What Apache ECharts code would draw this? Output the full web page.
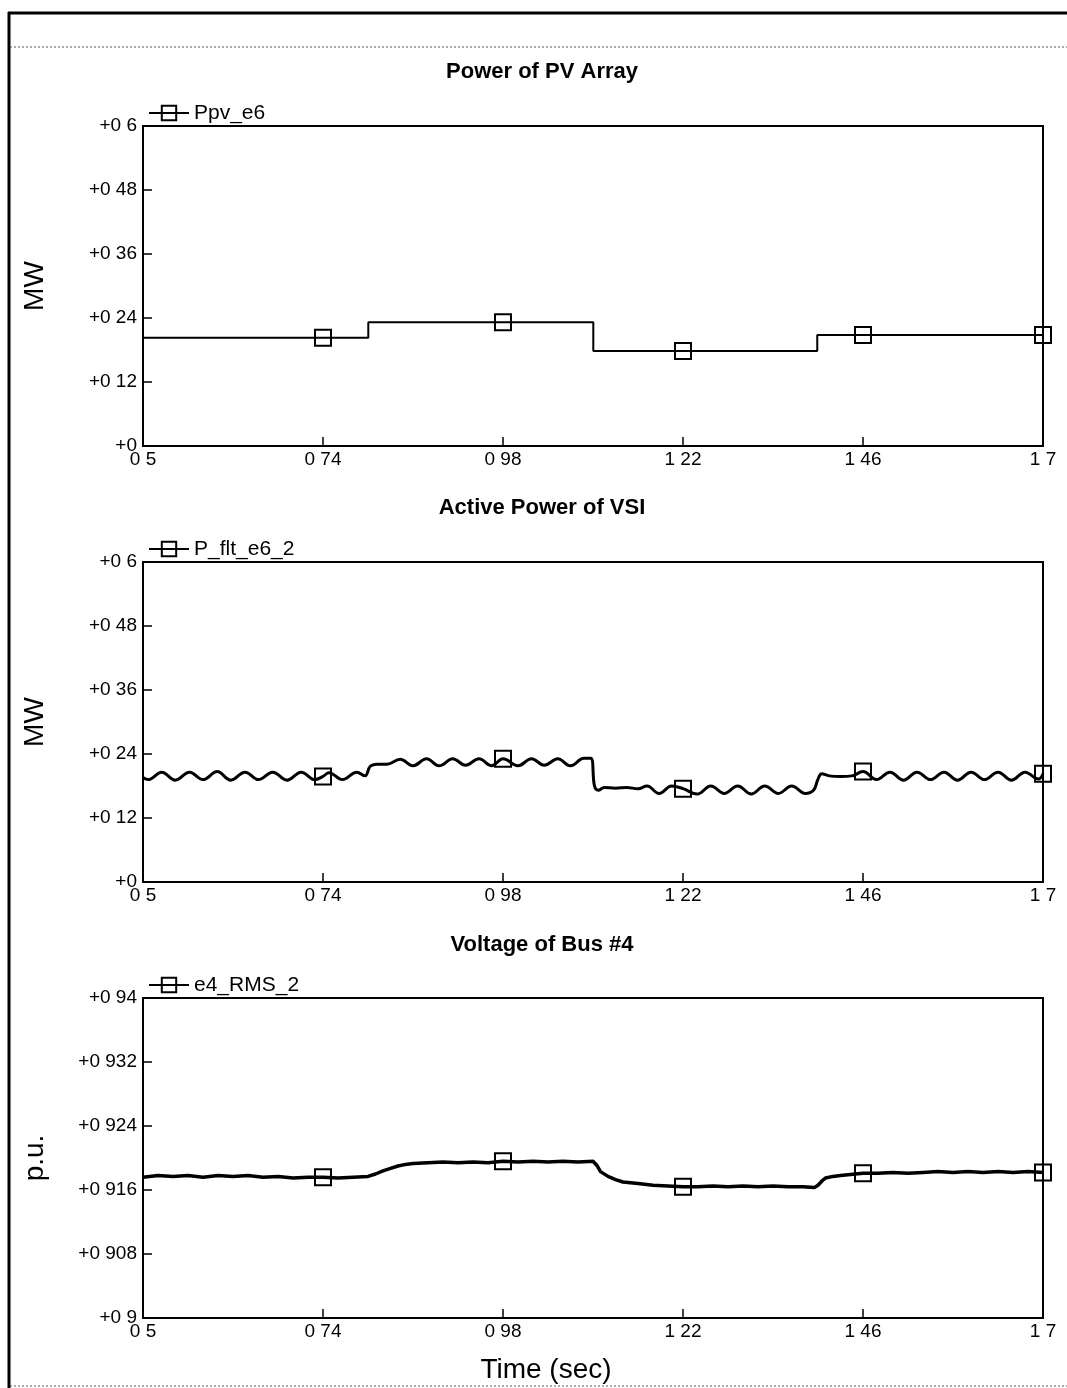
<!DOCTYPE html>
<html><head><meta charset="utf-8">
<script src="https://cdn.jsdelivr.net/npm/echarts@6/dist/echarts.min.js"></script>
<style>html,body{margin:0;padding:0;background:#fff}#c{width:1067px;height:1388px}</style>
</head><body><div id="c"></div>
<script>
// ---- data ----
const markerTimes = [0.74, 0.98, 1.22, 1.46, 1.7];

const titles = ['Power of PV Array', 'Active Power of VSI', 'Voltage of Bus #4'];
const legendNames = ['Ppv_e6', 'P_flt_e6_2', 'e4_RMS_2'];
const yNames = ['MW', 'MW', 'p.u.'];

// Chart 1: Power of PV array (MW), step changes
const pvTime  = [0.5, 0.74, 0.8004, 0.8004, 0.98, 1.1004, 1.1004, 1.22, 1.399, 1.399, 1.46, 1.7];
const pvPower = [0.203, 0.203, 0.203, 0.232, 0.232, 0.232, 0.178, 0.178, 0.178, 0.208, 0.208, 0.208];

// Chart 2: Active power of VSI (MW), with ripple
const vsiTime = [
  0.5, 0.507, 0.525, 0.543, 0.562, 0.580, 0.599, 0.617, 0.636, 0.654, 0.673, 0.692, 0.711, 0.729, 0.74, 0.748, 0.766, 0.785,
  0.796, 0.803, 0.812, 0.825,
  0.843, 0.860, 0.878, 0.895, 0.913, 0.930, 0.948, 0.965, 0.98, 1.000, 1.018, 1.035, 1.053, 1.070, 1.088, 1.097,
  1.102, 1.107, 1.115, 1.130, 1.145, 1.160,
  1.172, 1.188, 1.205, 1.22, 1.239, 1.257, 1.275, 1.293, 1.311, 1.329, 1.347, 1.365, 1.383,
  1.394, 1.400, 1.405, 1.415, 1.430, 1.445, 1.46,
  1.478, 1.496, 1.514, 1.532, 1.550, 1.568, 1.586, 1.604, 1.622, 1.640, 1.658, 1.676, 1.694, 1.7
];
const vsiPower = [
  0.196, 0.192, 0.206, 0.191, 0.206, 0.192, 0.207, 0.191, 0.206, 0.192, 0.206, 0.191, 0.206, 0.192, 0.198, 0.205, 0.192, 0.206,
  0.199, 0.217, 0.221, 0.221,
  0.230, 0.218, 0.231, 0.218, 0.231, 0.219, 0.231, 0.218, 0.231, 0.218, 0.231, 0.219, 0.231, 0.218, 0.232, 0.232,
  0.180, 0.172, 0.177, 0.176, 0.177, 0.175,
  0.180, 0.166, 0.180, 0.175, 0.165, 0.180, 0.166, 0.180, 0.165, 0.180, 0.166, 0.180, 0.166,
  0.172, 0.193, 0.203, 0.199, 0.198, 0.199, 0.207,
  0.192, 0.206, 0.191, 0.206, 0.192, 0.206, 0.191, 0.206, 0.192, 0.206, 0.191, 0.206, 0.193, 0.203
];

// Chart 3: Voltage of bus #4 (p.u.)
const busTime = [
  0.5, 0.52, 0.54, 0.56, 0.58, 0.6, 0.62, 0.64, 0.66, 0.68, 0.7, 0.72, 0.74, 0.76, 0.78, 0.8,
  0.81, 0.82, 0.83, 0.84, 0.85, 0.86, 0.88, 0.9, 0.92, 0.94, 0.96, 0.98, 1.0, 1.02, 1.04, 1.06, 1.08, 1.1,
  1.105, 1.11, 1.12, 1.13, 1.14, 1.15, 1.16, 1.18, 1.2, 1.22, 1.24, 1.26, 1.28, 1.3, 1.32, 1.34, 1.36, 1.38, 1.395,
  1.4, 1.405, 1.41, 1.42, 1.43, 1.44, 1.46, 1.48, 1.5, 1.52, 1.54, 1.56, 1.58, 1.6, 1.62, 1.64, 1.66, 1.68, 1.7
];
const busVoltage = [
  0.9176, 0.9178, 0.9177, 0.9178, 0.9176, 0.9178, 0.9177, 0.9178, 0.9176, 0.9177, 0.9175, 0.9176, 0.9176, 0.9175, 0.9176, 0.9177,
  0.9180, 0.9184, 0.9187, 0.9190, 0.9192, 0.9193, 0.9194, 0.9195, 0.9194, 0.9195, 0.9194, 0.9196, 0.9195, 0.9196, 0.9195, 0.9196, 0.9195, 0.9196,
  0.9191, 0.9183, 0.9177, 0.9173, 0.9170, 0.9169, 0.9168, 0.9166, 0.9165, 0.9164, 0.9164, 0.9165, 0.9164, 0.9165, 0.9164, 0.9165, 0.9164, 0.9164, 0.9163,
  0.9166, 0.9171, 0.9175, 0.9177, 0.9178, 0.9179, 0.9181, 0.9181, 0.9182, 0.9181, 0.9182, 0.9183, 0.9182, 0.9183, 0.9182, 0.9183, 0.9182, 0.9183, 0.9182
];

// axis ranges
const xRange = {min: 0.5, max: 1.7, interval: 0.24};
const yRanges = [
  {min: 0, max: 0.6, interval: 0.12},
  {min: 0, max: 0.6, interval: 0.12},
  {min: 0.9, max: 0.94, interval: 0.008}
];

// ---- layout ----
const FONT = 'Liberation Sans, Arial, sans-serif';
const gridTops = [126, 562, 998];
const GL = 143, GW = 900, GH = 320;
const titleY = [72, 508, 945];
const lineWidths = [2, 3, 3.5];

function fmt(v, digits) {
  let s = (+v).toFixed(digits).replace(/0+$/, '').replace(/\.$/, '');
  return s.replace('.', ' ');
}

function mk(times, vals) {
  return times.map((t, i) => ({
    value: [t, vals[i]],
    symbol: markerTimes.indexOf(t) >= 0 ? 'rect' : 'none'
  }));
}

const seriesData = [mk(pvTime, pvPower), mk(vsiTime, vsiPower), mk(busTime, busVoltage)];

const grids = [], xAxes = [], yAxes = [], series = [], legends = [], graphics = [];
for (let i = 0; i < 3; i++) {
  grids.push({left: GL, top: gridTops[i], width: GW, height: GH, show: true,
    borderColor: '#000', borderWidth: 2, backgroundColor: '#fff'});
  xAxes.push({type: 'value', gridIndex: i, min: xRange.min, max: xRange.max, interval: xRange.interval,
    axisLine: {show: true, onZero: false, lineStyle: {color: '#000', width: 2}},
    axisTick: {show: true, inside: true, length: 9, lineStyle: {color: '#000', width: 1.5}},
    splitLine: {show: false},
    axisLabel: {color: '#000', fontFamily: FONT, fontSize: 19, margin: 4,
      formatter: v => fmt(v, 2)}});
  yAxes.push({type: 'value', gridIndex: i, min: yRanges[i].min, max: yRanges[i].max, interval: yRanges[i].interval,
    name: yNames[i], nameLocation: 'middle', nameGap: 94, nameRotate: 90,
    nameTextStyle: {color: '#000', fontFamily: FONT, fontSize: 28},
    axisLine: {show: true, lineStyle: {color: '#000', width: 2}},
    axisTick: {show: true, inside: true, length: 9, lineStyle: {color: '#000', width: 1.5}},
    splitLine: {show: false},
    axisLabel: {color: '#000', fontFamily: FONT, fontSize: 19, margin: 6,
      formatter: v => '+' + fmt(v, 3)}});
  series.push({type: 'line', name: legendNames[i], xAxisIndex: i, yAxisIndex: i,
    data: seriesData[i], smooth: i === 1 ? 0.4 : false, animation: false,
    symbol: 'rect', symbolSize: 16, showSymbol: true,
    lineStyle: {color: '#000', width: lineWidths[i]},
    itemStyle: {color: 'rgba(255,255,255,0)', borderColor: '#000', borderWidth: 2},
    emphasis: {disabled: true}});
  legends.push({data: [legendNames[i]], left: 143, top: gridTops[i] - 33,
    itemWidth: 40, itemHeight: 18, itemGap: 5, selectedMode: false,
    textStyle: {color: '#000', fontFamily: FONT, fontSize: 21, lineHeight: 30, height: 30}});
  graphics.push({type: 'text', x: 542, y: titleY[i],
    style: {text: titles[i], fill: '#000', font: 'bold 22px ' + FONT, textAlign: 'center', textVerticalAlign: 'middle'}});
}

graphics.push({type: 'text', x: 546, y: 1370,
  style: {text: 'Time (sec)', fill: '#000', font: '28px ' + FONT, textAlign: 'center', textVerticalAlign: 'middle'}});
// outer frame
graphics.push({type: 'line', shape: {x1: 8, y1: 13, x2: 1067, y2: 13}, style: {stroke: '#000', lineWidth: 3}});
graphics.push({type: 'line', shape: {x1: 9, y1: 12, x2: 9, y2: 1388}, style: {stroke: '#000', lineWidth: 3}});
graphics.push({type: 'line', shape: {x1: 10, y1: 47, x2: 1067, y2: 47}, style: {stroke: '#555', lineWidth: 1, lineDash: [2, 2]}});
graphics.push({type: 'line', shape: {x1: 10, y1: 1386, x2: 1067, y2: 1386}, style: {stroke: '#555', lineWidth: 1, lineDash: [2, 2]}});

const chart = echarts.init(document.getElementById('c'));
chart.setOption({
  backgroundColor: '#fff',
  animation: false,
  grid: grids, xAxis: xAxes, yAxis: yAxes, series: series, legend: legends,
  graphic: graphics
});
</script></body></html>
